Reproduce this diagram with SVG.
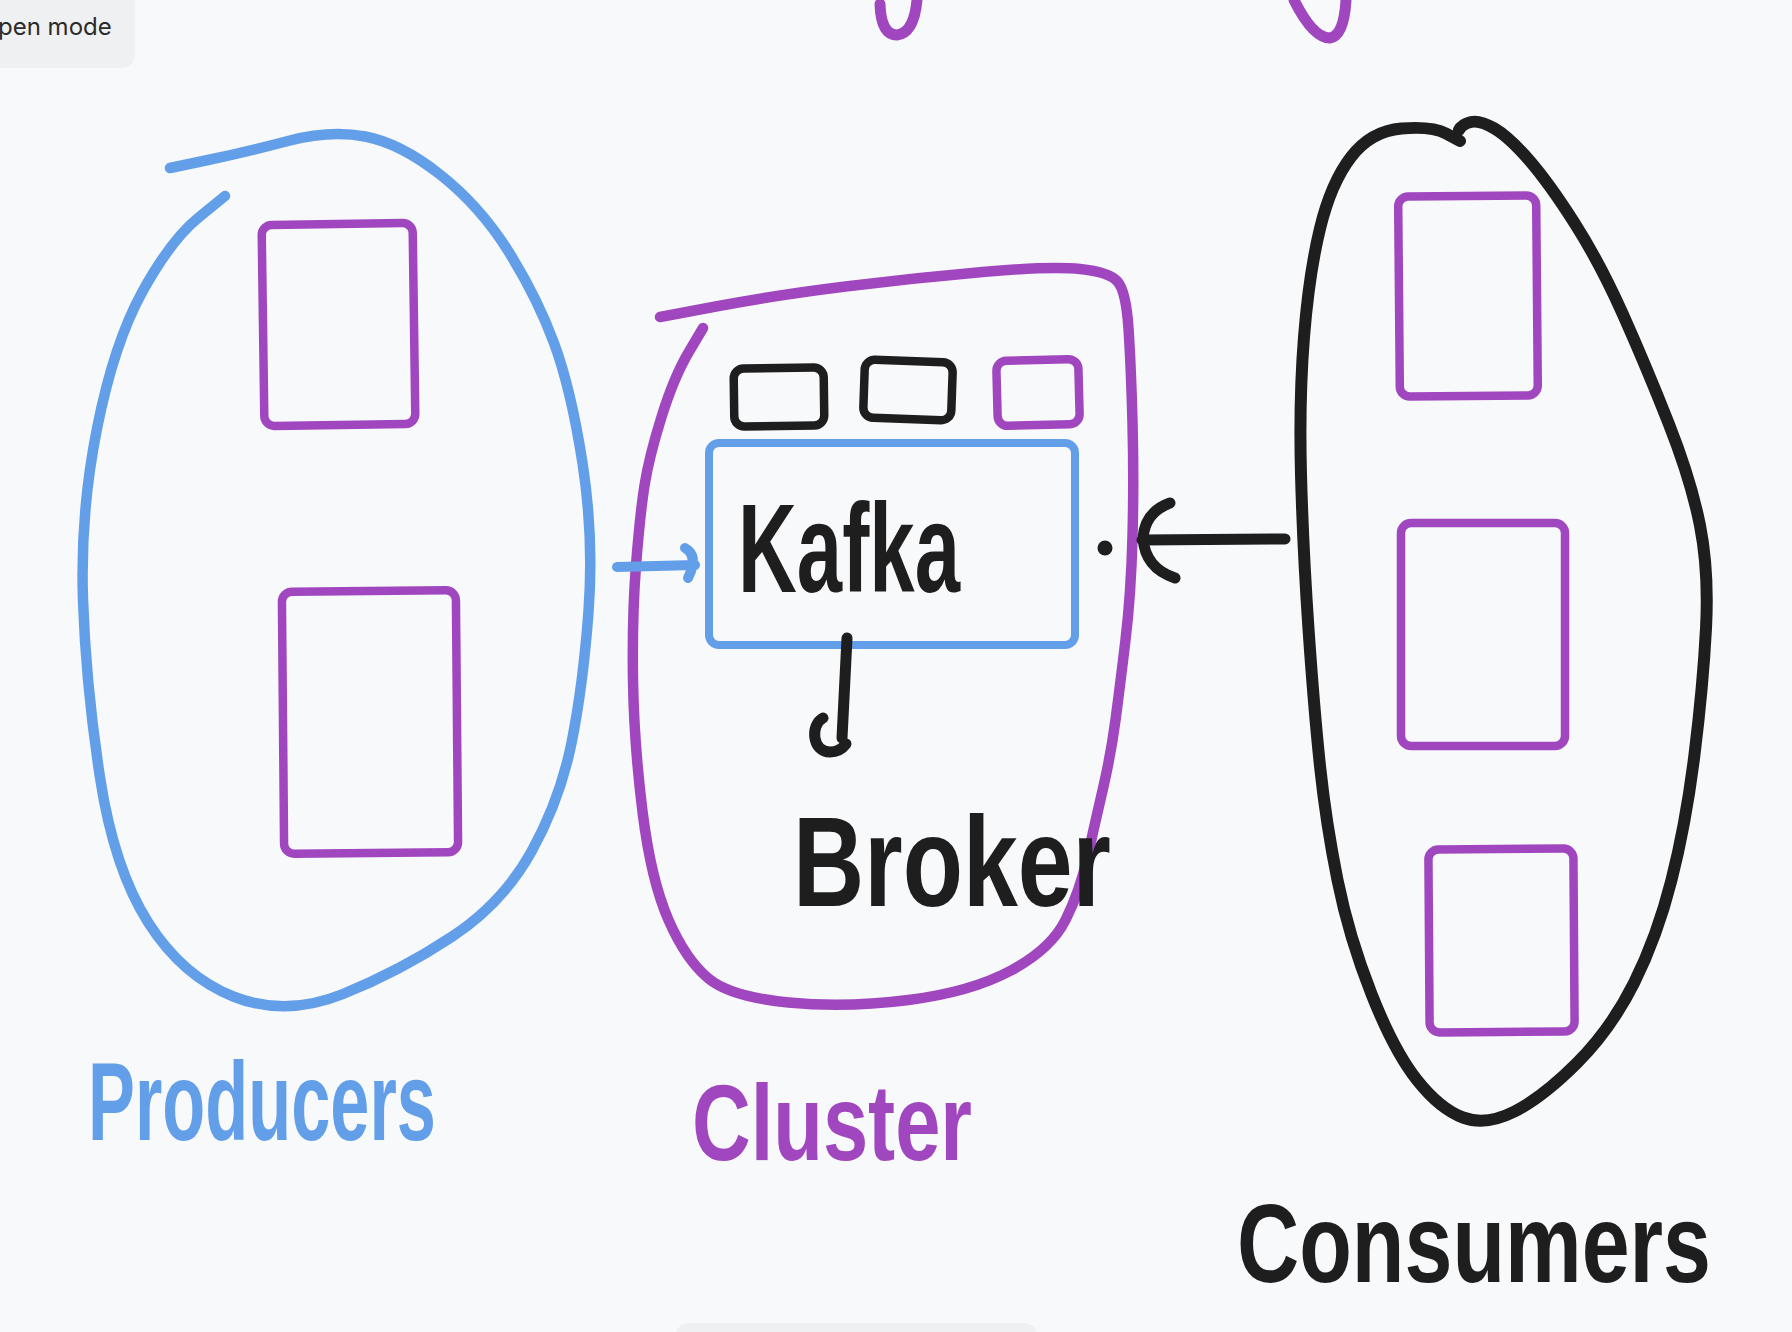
<svg xmlns="http://www.w3.org/2000/svg" width="1792" height="1332" viewBox="0 0 1792 1332">
<style>
.bg{fill:#f8f9fb}
.ui{fill:#eff0f2}
.uitext{font-family:Inter,"Liberation Sans",sans-serif;font-size:24px;fill:#2b2b2b}
.s{fill:none;stroke-linecap:round;stroke-linejoin:round}
.blue{stroke:#629fe8}
.purple{stroke:#a047c0}
.black{stroke:#1e1e1e}
.blob{stroke-width:10.5}
.box{stroke-width:8.5}
.hand{font-family:"Liberation Sans",Arial,sans-serif;font-weight:bold}
</style>
<rect class="bg" x="0" y="0" width="1792" height="1332"/>
<g id="ui-mode">
<path class="ui" d="M0 0 H135 V53 Q135 68 120 68 H0 Z"/>
<text class="uitext" x="-2" y="35">pen mode</text>
</g>
<rect class="ui" id="ui-bar" x="675" y="1323" width="363" height="30" rx="14"/>
<g id="top-fragments">
<path class="s purple" stroke-width="11" d="M880 4 Q881 35 897 35 Q914 33 917 0"/>
<path class="s purple" stroke-width="11" d="M1294 0 Q1313 38 1330 38 Q1344 36 1346 0"/>
</g>
<g id="producers">
<path class="s blue blob" d="M170 168 L208 160 Q246 152 288 141 Q330 130 365 136.5 Q400 143 440 174.5 Q480 206 508.5 251.5 Q537 297 554 343 Q571 389 582.5 463 Q594 537 588.5 611.5 Q583 686 571.5 743 Q560 800 531.5 851.5 Q503 903 451.5 937 Q400 971 343 994 Q286 1017 234.5 997 Q183 977 148.5 923 Q114 869 100 777.5 Q86 686 83 600 Q80 514 97 428.5 Q114 343 142.5 291.5 Q171 240 198 218 L225 196"/>
<rect class="s purple box" x="263" y="224" width="151" height="201" rx="10" transform="rotate(-0.8 338 324)"/>
<rect class="s purple box" x="283" y="591" width="174" height="262" rx="10" transform="rotate(-0.5 370 722)"/>
<text class="hand" x="88" y="1140" font-size="112" fill="#629fe8" textLength="348" lengthAdjust="spacingAndGlyphs">Producers</text>
</g>
<g id="cluster">
<path class="s purple blob" d="M660 317 L718.5 306 Q777 295 845.5 286.5 Q914 278 982.5 272 Q1051 266 1080 269 Q1109 272 1117.5 281.5 Q1126 291 1128.5 328.5 Q1131 366 1132.5 423 Q1134 480 1132.5 537 Q1131 594 1125.5 640 Q1120 686 1115.5 720 Q1111 754 1103 788.5 Q1095 823 1087.5 857 Q1080 891 1065.5 920 Q1051 949 1011 970.5 Q971 992 908.5 1000 Q846 1008 788.5 1002.5 Q731 997 708.5 978.5 Q686 960 668.5 920 Q651 880 642.5 811.5 Q634 743 633 680 Q632 617 636 565.5 Q640 514 644.5 485.5 Q649 457 661.5 417 Q674 377 688.5 352.5 L703 328"/>
<rect class="s black box" x="734" y="368" width="90" height="58" rx="10" transform="rotate(-0.8 779 397)"/>
<rect class="s black box" x="864" y="361" width="88" height="58" rx="10" transform="rotate(2 908 390)"/>
<rect class="s purple box" x="997" y="360" width="82" height="65" rx="10" transform="rotate(-1.5 1038 392)"/>
<text class="hand" x="692" y="1160" font-size="108" fill="#a047c0" textLength="280" lengthAdjust="spacingAndGlyphs">Cluster</text>
</g>
<g id="kafka">
<rect class="s blue" stroke-width="8" x="709" y="443" width="366" height="202" rx="10"/>
<text class="hand" x="738" y="592" font-size="126" fill="#1e1e1e" textLength="222" lengthAdjust="spacingAndGlyphs">Kafka</text>
</g>
<g id="broker">
<text class="hand" x="793" y="906" font-size="128" fill="#1e1e1e" textLength="318" lengthAdjust="spacingAndGlyphs">Broker</text>
</g>
<g id="consumers">
<path class="s black" stroke-width="12" d="M1460 141 L1446 133.5 Q1432 126 1401.5 128.5 Q1371 131 1351 157 Q1331 183 1320 228.5 Q1309 274 1304 337 Q1299 400 1301 474.5 Q1303 549 1308.5 629 Q1314 709 1320 766 Q1326 823 1337.5 880 Q1349 937 1371.5 994 Q1394 1051 1417 1080 Q1440 1109 1463 1117.5 Q1486 1126 1514.5 1111.5 Q1543 1097 1577 1063 Q1611 1029 1634 983 Q1657 937 1671.5 880 Q1686 823 1694.5 754.5 Q1703 686 1706 628.5 Q1709 571 1700 525.5 Q1691 480 1668.5 423 Q1646 366 1623 314.5 Q1600 263 1574.5 223 Q1549 183 1529 160 Q1509 137 1494.5 128.5 Q1480 120 1471 122 Q1462 124 1459 130"/>
<rect class="s purple box" x="1399" y="196" width="138" height="200" rx="10" transform="rotate(-0.5 1468 296)"/>
<rect class="s purple box" x="1401" y="523" width="164" height="223" rx="10"/>
<rect class="s purple box" x="1429" y="849" width="145" height="183" rx="10" transform="rotate(-0.4 1501 940)"/>
<text class="hand" transform="translate(1237 1282) scale(1 1.15)" x="0" y="0" font-size="96" fill="#1e1e1e" textLength="474" lengthAdjust="spacingAndGlyphs">Consumers</text>
</g>
<g id="connectors">
<path class="s blue" stroke-width="10" d="M617 567 L695 565 M685 548 Q699 556 688 578"/>
<path class="s black" stroke-width="11" d="M1285 539 L1142 540 M1170 503 Q1145 512 1143 538 Q1145 568 1175 578"/>
<circle cx="1105" cy="548" r="7.5" fill="#1e1e1e"/>
<path class="s black" stroke-width="11" d="M847 638 L842 738 M823 718 C810 725 812 752 830 752 Q840 752 846 744"/>
</g>
</svg>
